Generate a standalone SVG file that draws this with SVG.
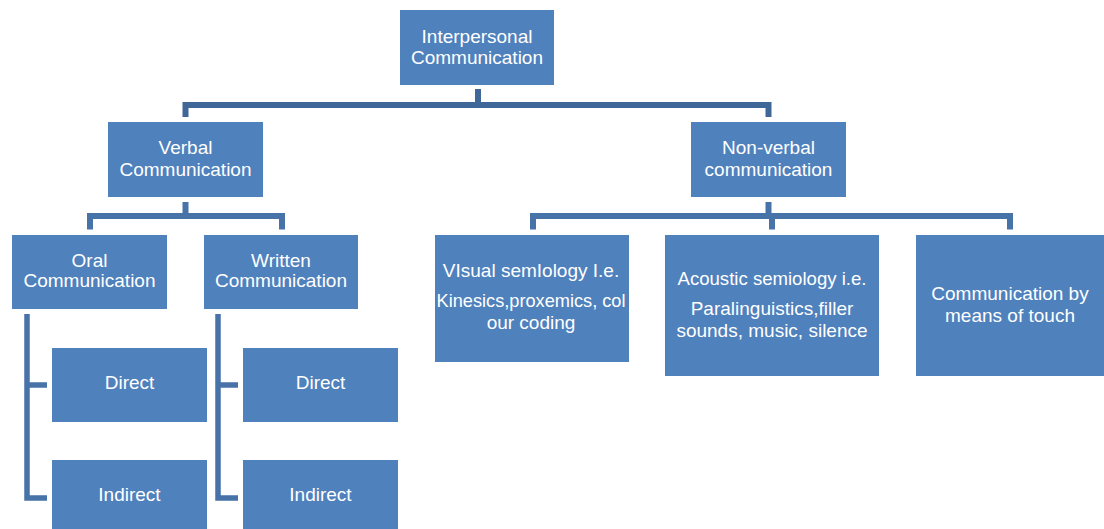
<svg xmlns="http://www.w3.org/2000/svg" width="1104" height="529" viewBox="0 0 1104 529">
<style>
.box{fill:#4F81BD;}
.t{font-family:"Liberation Sans",Arial,sans-serif;font-size:19px;fill:#FFFFFF;text-anchor:middle;}
.c1{fill:none;stroke:#3F6898;stroke-width:6;stroke-linejoin:miter;stroke-linecap:butt;}
.c2{fill:none;stroke:#4873A9;stroke-width:6;stroke-linejoin:miter;stroke-linecap:butt;}
.c3{fill:none;stroke:#4873A9;stroke-width:5.5;stroke-linejoin:miter;stroke-linecap:butt;}
</style>
<rect width="1104" height="529" fill="#FFFFFF"/>
<g id="connectors">
<path class="c1" d="M478,89 V105 M185.5,117 V105 H768.5 V117"/>
<path class="c2" d="M185.5,202 V216 M90,229.5 V216 H282 V229.5"/>
<path class="c2" d="M768.5,202 V216 M533,229.5 V216 H1010 V229.5 M772,216 V229.5"/>
<path class="c3" d="M27,314 V498 H47 M27,385 H47"/>
<path class="c3" d="M218,314 V498 H238 M218,385 H238"/>
</g>
<g id="interpersonal">
<rect class="box" x="400" y="10" width="154" height="75"/>
<text class="t" x="477" y="43">Interpersonal</text>
<text class="t" x="477" y="64">Communication</text>
</g>
<g id="verbal">
<rect class="box" x="108" y="122" width="155" height="75"/>
<text class="t" x="185.5" y="154">Verbal</text>
<text class="t" x="185.5" y="176">Communication</text>
</g>
<g id="nonverbal">
<rect class="box" x="691" y="122" width="155" height="75"/>
<text class="t" x="768.5" y="154">Non-verbal</text>
<text class="t" x="768.5" y="176">communication</text>
</g>
<g id="oral">
<rect class="box" x="12" y="235" width="155" height="74"/>
<text class="t" x="89.5" y="267">Oral</text>
<text class="t" x="89.5" y="287">Communication</text>
</g>
<g id="written">
<rect class="box" x="204" y="235" width="154" height="74"/>
<text class="t" x="281" y="267">Written</text>
<text class="t" x="281" y="287">Communication</text>
</g>
<g id="oral-direct">
<rect class="box" x="52" y="348" width="155" height="74"/>
<text class="t" x="129.5" y="389">Direct</text>
</g>
<g id="oral-indirect">
<rect class="box" x="52" y="460" width="155" height="69"/>
<text class="t" x="129.5" y="501">Indirect</text>
</g>
<g id="written-direct">
<rect class="box" x="243" y="348" width="155" height="74"/>
<text class="t" x="320.5" y="389">Direct</text>
</g>
<g id="written-indirect">
<rect class="box" x="243" y="460" width="155" height="69"/>
<text class="t" x="320.5" y="501">Indirect</text>
</g>
<g id="visual">
<rect class="box" x="435" y="235" width="194" height="127"/>
<text class="t" x="531" y="277">VIsual semIology I.e.</text>
<text class="t" x="531" y="307" textLength="189" lengthAdjust="spacingAndGlyphs">Kinesics,proxemics, col</text>
<text class="t" x="531" y="329">our coding</text>
</g>
<g id="acoustic">
<rect class="box" x="665" y="235" width="214" height="141"/>
<text class="t" x="772" y="285" textLength="189" lengthAdjust="spacingAndGlyphs">Acoustic semiology i.e.</text>
<text class="t" x="772" y="315">Paralinguistics,filler</text>
<text class="t" x="772" y="337">sounds, music, silence</text>
</g>
<g id="touch">
<rect class="box" x="916" y="235" width="188" height="141"/>
<text class="t" x="1010" y="300">Communication by</text>
<text class="t" x="1010" y="322">means of touch</text>
</g>
</svg>
